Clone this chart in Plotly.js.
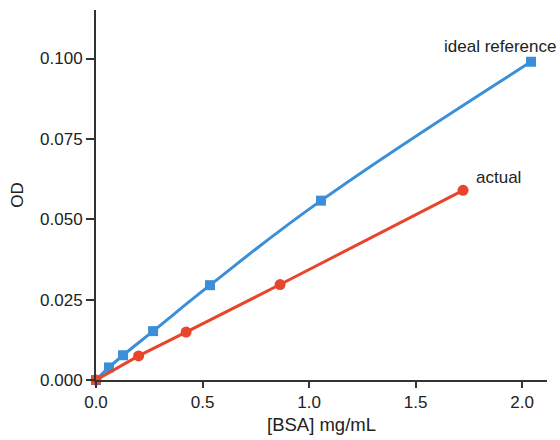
<!DOCTYPE html>
<html>
<head>
<meta charset="utf-8">
<script src="https://cdn.plot.ly/plotly-3.0.1.min.js"></script>
<style>html,body{margin:0;padding:0;background:#fff;}#chart{width:560px;height:440px;}</style>
</head>
<body>
<div id="chart"></div>
<script>
const idealX = [0, 0.061, 0.127, 0.268, 0.535, 1.056, 2.042];
const idealY = [0, 0.0039, 0.0077, 0.0152, 0.0295, 0.0558, 0.0990];
const actualX = [0, 0.200, 0.423, 0.864, 1.723];
const actualY = [0, 0.0075, 0.0149, 0.0297, 0.0590];
const xTicks = [0, 0.5, 1.0, 1.5, 2.0];
const xTickText = ['0.0', '0.5', '1.0', '1.5', '2.0'];
const yTicks = [0, 0.025, 0.05, 0.075, 0.1];
const yTickText = ['0.000', '0.025', '0.050', '0.075', '0.100'];
const seriesNames = ['ideal reference', 'actual'];

const fam = 'Liberation Sans, Arial, sans-serif';
const tickFont = {family: fam, size: 17, color: '#222'};
const titleFont = {family: fam, size: 17, color: '#222'};
const xTitleFont = {family: fam, size: 18.5, color: '#222'};

const traces = [
  {x: idealX, y: idealY, name: seriesNames[0], mode: 'lines+markers', cliponaxis: false,
   line: {color: '#3a8fd8', width: 3, shape: 'spline', smoothing: 1.2},
   marker: {symbol: 'square', size: 10, color: '#3a8fd8'}},
  {x: actualX, y: actualY, name: seriesNames[1], mode: 'lines+markers', cliponaxis: false,
   line: {color: '#e8452d', width: 3},
   marker: {symbol: 'circle', size: 11, color: '#e8452d'}}
];

const layout = {
  width: 560, height: 440,
  margin: {l: 96, r: 13, t: 10, b: 60},
  paper_bgcolor: '#fff', plot_bgcolor: '#fff',
  showlegend: false,
  font: tickFont,
  xaxis: {range: [0, 2.117], tickvals: xTicks, ticktext: xTickText, showgrid: false, zeroline: false,
          showline: true, linecolor: '#333', linewidth: 2, ticks: 'outside', ticklen: 6, tickcolor: '#333', tickwidth: 2,
          tickfont: tickFont,
          title: {text: '[BSA] mg/mL', font: xTitleFont, standoff: 7}},
  yaxis: {range: [0, 0.1151], tickvals: yTicks, ticktext: yTickText, showgrid: false, zeroline: false,
          showline: true, linecolor: '#333', linewidth: 2, ticks: 'outside', ticklen: 8, tickcolor: '#333', tickwidth: 2,
          tickfont: tickFont,
          title: {text: 'OD', font: titleFont, standoff: 12}},
  annotations: [
    {x: idealX[idealX.length-1], y: idealY[idealY.length-1], xref: 'x', yref: 'y', text: seriesNames[0], showarrow: false,
     xanchor: 'right', yanchor: 'bottom', xshift: 27, yshift: 4, font: titleFont},
    {x: actualX[actualX.length-1], y: actualY[actualY.length-1], xref: 'x', yref: 'y', text: seriesNames[1], showarrow: false,
     xanchor: 'left', yanchor: 'bottom', xshift: 11, yshift: 1, font: titleFont}
  ]
};

Plotly.newPlot('chart', traces, layout, {displayModeBar: false, staticPlot: true});
</script>
</body>
</html>
